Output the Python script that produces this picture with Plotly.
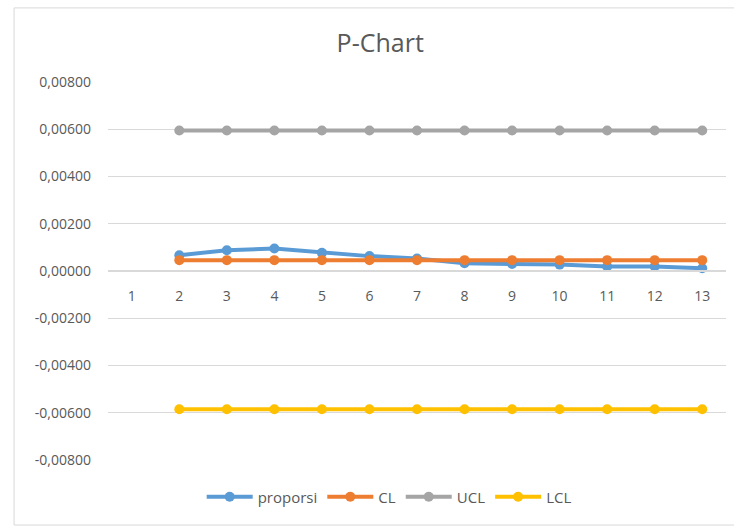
import plotly.graph_objects as go

categories = [str(i) for i in range(1, 14)]
proporsi = [None, 0.00067, 0.00088, 0.00095, 0.00077, 0.00063, 0.00053, 0.00033, 0.00030, 0.00027, 0.00019, 0.00019, 0.00012]
cl = [None] + [0.00046] * 12
ucl = [None] + [0.00595] * 12
lcl = [None] + [-0.00585] * 12
y_ticks = [0.008, 0.006, 0.004, 0.002, 0.0, -0.002, -0.004, -0.006, -0.008]
y_tick_labels = ["0,00800", "0,00600", "0,00400", "0,00200", "0,00000",
                 "-0,00200", "-0,00400", "-0,00600", "-0,00800"]

series = [
    ("proporsi", proporsi, "#5B9BD5"),
    ("CL", cl, "#ED7D31"),
    ("UCL", ucl, "#A5A5A5"),
    ("LCL", lcl, "#FFC000"),
]

fig = go.Figure()
for name, vals, color in series:
    fig.add_trace(go.Scatter(
        x=categories, y=vals, name=name, mode="lines+markers",
        line=dict(color=color, width=4),
        marker=dict(color=color, size=10),
        connectgaps=False,
    ))

font_color = "#595959"
fig.update_layout(
    width=734, height=526,
    margin=dict(l=108, r=8, t=82, b=66),
    paper_bgcolor="white", plot_bgcolor="white",
    font=dict(family="Open Sans, Liberation Sans, sans-serif", size=14, color=font_color),
    title=dict(text="P-Chart", x=0.518, xanchor="center", y=0.918, yanchor="middle",
               font=dict(size=25, color=font_color)),
    showlegend=True,
    legend=dict(orientation="h", x=0.455, xanchor="center", y=-0.098, yanchor="middle",
                font=dict(size=15, color=font_color), itemwidth=46, tracegroupgap=0),
    xaxis=dict(type="category", categoryorder="array", categoryarray=categories,
               anchor="free", position=0.5, showgrid=False,
               showline=True, linecolor="#d9d9d9", linewidth=1.5,
               ticks="", ticklabelstandoff=12, zeroline=False,
               range=[-0.5, 12.5]),
    yaxis=dict(range=[-0.008, 0.008], tickvals=y_ticks, ticktext=y_tick_labels,
               showgrid=True, gridcolor="#d9d9d9", gridwidth=1,
               zeroline=False, showline=False, ticks="", ticklabelstandoff=16),
    shapes=[dict(type="rect", xref="paper", yref="paper",
                 x0=-0.152, x1=1.03, y0=-0.172, y1=1.196,
                 line=dict(color="#d9d9d9", width=1), fillcolor="rgba(0,0,0,0)",
                 layer="below")],
)

fig.write_html("out.html")
